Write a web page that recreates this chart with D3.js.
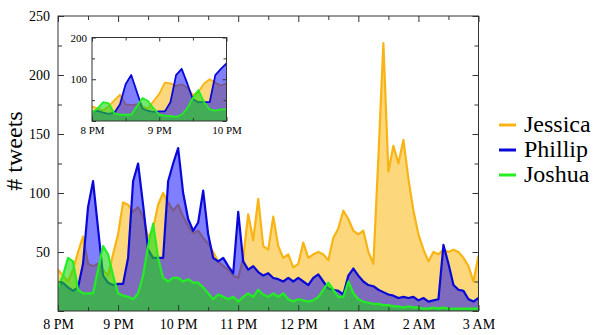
<!DOCTYPE html>
<html>
<head>
<meta charset="utf-8">
<script src="https://cdn.jsdelivr.net/npm/d3@7"></script>
<style>
  body { margin: 0; }
  #chart text { font-family: "Liberation Serif", "Times New Roman", serif !important; }
</style>
</head>
<body>
<svg id="chart" width="600" height="335"></svg>
<script>
// 5-minute bins from 8 PM to 3 AM
const stepMin = 5;
const hourLabels = ['8 PM', '9 PM', '10 PM', '11 PM', '12 PM', '1 AM', '2 AM', '3 AM'];
const names = ['Jessica', 'Phillip', 'Joshua'];

const jessica = [
  35, 30, 25, 35, 50, 63, 40, 38, 40, 35, 30, 48,
  65, 92, 90, 84, 88, 80, 62, 70, 90, 100, 92, 85,
  90, 80, 72, 66, 68, 62, 57, 50, 42, 38, 35, 30,
  28, 45, 82, 60, 95, 55, 52, 80, 55, 45, 48, 37,
  40, 58, 45, 48, 50, 48, 43, 62, 70, 85, 78, 68,
  65, 68, 50, 40, 130, 227, 118, 140, 125, 145, 112, 85,
  65, 52, 42, 50, 48, 52, 50, 52, 50, 45, 38, 25,
  47
];
const phillip = [
  22, 24, 20, 17, 20, 40, 88, 110, 70, 30, 24, 22,
  23, 23, 45, 110, 125, 90, 52, 45, 45, 45, 110, 125,
  138, 100, 78, 68, 75, 102, 65, 45, 42, 45, 38, 32,
  84, 42, 35, 38, 33, 30, 32, 28, 27, 25, 28, 25,
  28, 25, 22, 28, 31, 25, 19, 18, 17, 14, 30, 36,
  30, 25, 22, 21, 18, 16, 14, 13, 11, 12, 11, 12,
  9, 11, 8, 9, 10, 56, 40, 22, 18, 17, 10, 8,
  11
];
const joshua = [
  20, 30, 45, 42, 18, 15, 15, 15, 35, 55, 48, 30,
  15, 13, 12, 10, 15, 30, 55, 74, 45, 28, 25, 28,
  28, 25, 27, 24, 24, 20, 15, 10, 14, 12, 10, 12,
  8, 12, 15, 12, 18, 14, 12, 15, 12, 15, 10, 8,
  10, 9, 8, 9, 12, 18, 24, 18, 12, 12, 25, 15,
  10, 8, 7, 6, 6, 5, 5, 4, 4, 3, 4, 3,
  3, 2, 2, 3, 2, 3, 2, 2, 2, 2, 2, 2,
  2
];

const lineColors = ['#f8b414', '#0808d8', '#22ee22'];
const fillColors = ['#fbbf2c', '#0000ff', '#1ad810'];
const fillOpacity = [0.62, 0.5, 0.6];

const series = [jessica, phillip, joshua].map((vals, i) => ({
  name: names[i],
  points: vals.map((v, j) => ({ t: j * stepMin, v }))
}));

const svg = d3.select('#chart');
const serifFamily = 'Liberation Serif';

function drawPanel(g, x, y, opts) {
  const [x0, x1] = x.range();
  const [y0, y1] = y.range();
  const clipId = 'clip-' + opts.id;
  g.append('clipPath').attr('id', clipId)
    .append('rect').attr('x', x0).attr('y', y1).attr('width', x1 - x0).attr('height', y0 - y1);
  g.append('rect').attr('x', x0).attr('y', y1).attr('width', x1 - x0).attr('height', y0 - y1)
    .attr('fill', '#fff');
  const plot = g.append('g').attr('clip-path', `url(#${clipId})`);
  series.forEach((s, i) => {
    const pts = s.points.filter(p => p.t <= x.domain()[1]);
    const area = d3.area().x(d => x(d.t)).y0(y(0)).y1(d => y(d.v));
    const line = d3.line().x(d => x(d.t)).y(d => y(d.v));
    plot.append('path').datum(pts).attr('d', area)
      .attr('fill', fillColors[i]).attr('fill-opacity', fillOpacity[i]);
    plot.append('path').datum(pts).attr('d', line)
      .attr('fill', 'none').attr('stroke', lineColors[i])
      .attr('stroke-width', opts.lw).attr('stroke-linejoin', 'round');
  });

  // ticks (inward, all four sides)
  const xt = d3.range(x.domain()[0], x.domain()[1] + 1, 30);
  const yt = d3.range(0, y.domain()[1] + 1, opts.yMinor);
  const isMajX = t => t % 60 === 0;
  const isMajY = v => v % (opts.yMinor * 2) === 0;

  const bottom = g.append('g').attr('transform', `translate(0,${y0})`)
    .call(d3.axisBottom(x).tickValues(xt).tickSize(-opts.tMaj).tickPadding(opts.pad)
      .tickFormat(t => isMajX(t) ? opts.xLabels[t / 60] : ''));
  const top = g.append('g').attr('transform', `translate(0,${y1})`)
    .call(d3.axisTop(x).tickValues(xt).tickSize(-opts.tMaj).tickFormat(''));
  const left = g.append('g').attr('transform', `translate(${x0},0)`)
    .call(d3.axisLeft(y).tickValues(yt).tickSize(-opts.tMaj).tickPadding(opts.pad)
      .tickFormat(v => isMajY(v) && v > 0 ? v : ''));
  const right = g.append('g').attr('transform', `translate(${x1},0)`)
    .call(d3.axisRight(y).tickValues(yt).tickSize(-opts.tMaj).tickFormat(''));

  [bottom, top, left, right].forEach(a => {
    a.attr('font-family', serifFamily).attr('font-size', opts.fs);
    a.select('.domain').remove();
    a.selectAll('line').attr('stroke', '#333');
    a.selectAll('text').attr('fill', '#000');
  });
  bottom.selectAll('.tick line').filter(t => !isMajX(t)).attr('y2', -opts.tMin);
  top.selectAll('.tick line').filter(t => !isMajX(t)).attr('y2', opts.tMin);
  left.selectAll('.tick line').filter(v => !isMajY(v)).attr('x2', opts.tMin);
  right.selectAll('.tick line').filter(v => !isMajY(v)).attr('x2', -opts.tMin);

  g.append('rect').attr('x', x0).attr('y', y1).attr('width', x1 - x0).attr('height', y0 - y1)
    .attr('fill', 'none').attr('stroke', '#333').attr('stroke-width', 1);
}

// main panel
const x = d3.scaleLinear().domain([0, 420]).range([58, 478.5]);
const y = d3.scaleLinear().domain([0, 250]).range([311, 16]);
drawPanel(svg.append('g'), x, y, {
  id: 'main', lw: 2.2, yMinor: 25, tMaj: 6, tMin: 4, pad: 8, fs: 14, xLabels: hourLabels
});

// y title
svg.append('text')
  .attr('transform', 'translate(22,151) rotate(-90)')
  .attr('text-anchor', 'middle')
  .attr('font-family', serifFamily)
  .attr('font-size', 24)
  .text('# tweets');

// inset panel (first two hours)
const xi = d3.scaleLinear().domain([0, 120]).range([92, 226.5]);
const yi = d3.scaleLinear().domain([0, 200]).range([121, 37.5]);
drawPanel(svg.append('g'), xi, yi, {
  id: 'inset', lw: 1.8, yMinor: 50, tMaj: 4, tMin: 3, pad: 5, fs: 11, xLabels: hourLabels
});

// legend
names.forEach((n, i) => {
  const by = 132 + i * 25;
  svg.append('line')
    .attr('x1', 499).attr('x2', 516).attr('y1', by - 7).attr('y2', by - 7)
    .attr('stroke', lineColors[i]).attr('stroke-width', 3);
  svg.append('text')
    .attr('x', 524).attr('y', by)
    .attr('font-family', serifFamily)
    .attr('font-size', 24)
    .text(n);
});
</script>
</body>
</html>
